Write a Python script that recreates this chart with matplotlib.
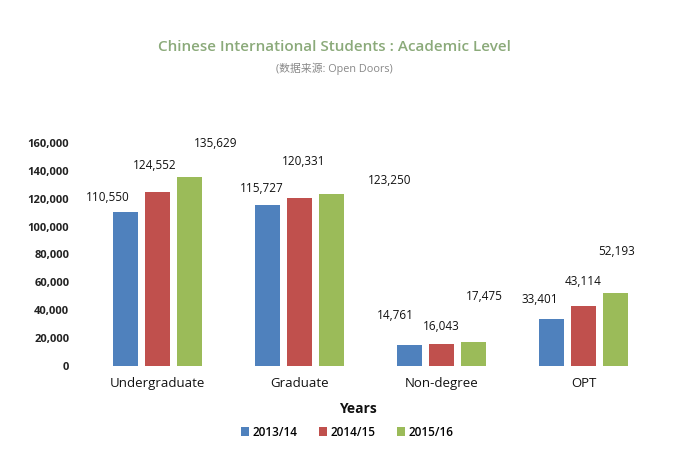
import matplotlib
matplotlib.use("Agg")
import matplotlib.pyplot as plt
import numpy as np

categories = ["Undergraduate", "Graduate", "Non-degree", "OPT"]
series_names = ["2013/14", "2014/15", "2015/16"]
v2013 = [110550, 115727, 14761, 33401]
v2014 = [124552, 120331, 16043, 43114]
v2015 = [135629, 123250, 17475, 52193]
yticks = [0, 20000, 40000, 60000, 80000, 100000, 120000, 140000, 160000]

colors = ["#4F81BD", "#C0504D", "#9BBB59"]
# label offsets (pixels) mimicking the reference's placement
offsets = [
    [(-17, 14), (-6, 16), (-14, 30), (-12, 20)],
    [(-2, 27), (4, 37), (0, 17), (-1, 24)],
    [(27, 33), (58, 14), (11, 45), (1, 42)],
]

plt.rcParams['font.family'] = ['Open Sans', 'Noto Sans CJK SC', 'DejaVu Sans']
fig = plt.figure(figsize=(6.88, 4.54), dpi=100)
ax = fig.add_axes([0.125, 0.194, 0.827, 0.491])

x = np.arange(len(categories))
w = 0.176
step = 0.225
for i, vals in enumerate([v2013, v2014, v2015]):
    xs = x + (i - 1) * step
    ax.bar(xs, vals, width=w, color=colors[i], label=series_names[i])
    for j, (xx, v) in enumerate(zip(xs, vals)):
        ax.annotate(f"{v:,}", xy=(xx, v), xytext=offsets[i][j],
                    textcoords='offset pixels', ha='center', va='center',
                    fontsize=8.5, color='#111111')

ax.set_xlim(-0.5, 3.5)
ax.set_ylim(0, 160000)
ax.set_yticks(yticks)
ax.set_yticklabels([f"{t:,}" for t in yticks], fontsize=8, fontweight='bold', color='#222222')
ax.set_xticks(x)
ax.set_xticklabels(categories, fontsize=9.5, color='#111111')
for s in ax.spines.values():
    s.set_visible(False)
ax.tick_params(axis='both', length=0)
ax.tick_params(axis='y', pad=12)
ax.tick_params(axis='x', pad=8)

fig.text(0.486, 0.896, "Chinese International Students : Academic Level",
         ha='center', va='center', fontsize=11, color='#8BAA7A', fontweight='semibold')
fig.text(0.486, 0.848, "(数据来源: Open Doors)", ha='center', va='center',
         fontsize=7.8, color='#888888')
fig.text(0.52, 0.099, "Years", ha='center', va='center', fontsize=10,
         fontweight='bold', color='#111111')

leg = fig.legend(loc='center', bbox_to_anchor=(0.505, 0.048), ncol=3, frameon=False,
                 fontsize=8.5, handlelength=0.7, handleheight=0.7, handletextpad=0.3,
                 columnspacing=1.8)
for t in leg.get_texts():
    t.set_fontweight('semibold')

fig.savefig("out.png", dpi=100, facecolor='white')
